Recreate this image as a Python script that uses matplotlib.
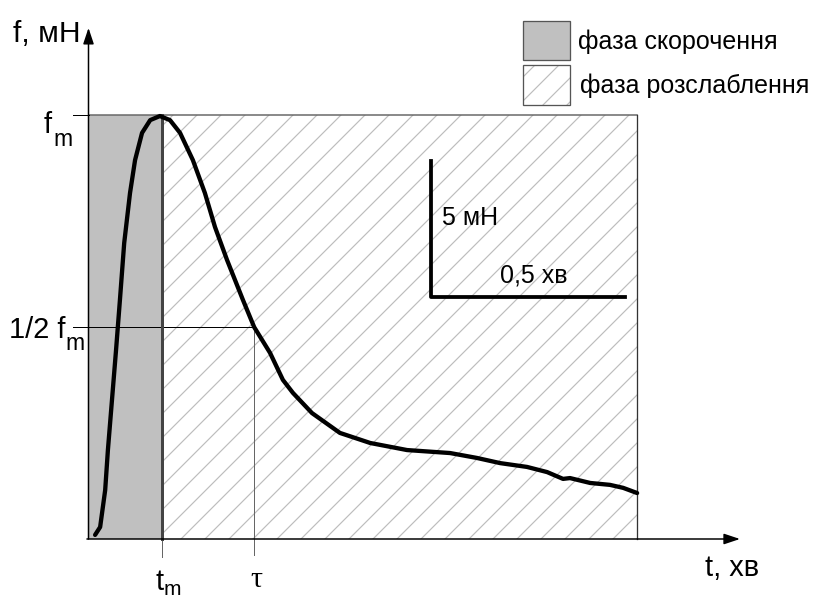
import matplotlib
matplotlib.use("Agg")
import matplotlib.pyplot as plt
import matplotlib.transforms as mtransforms
from matplotlib.patches import Rectangle

# curve: time in minutes, force in mN
t_curve = [0.017, 0.030, 0.043, 0.050, 0.071, 0.081, 0.092, 0.107, 0.120, 0.138,
           0.159, 0.184, 0.210, 0.236, 0.269, 0.300, 0.326, 0.357, 0.398, 0.427,
           0.468, 0.501, 0.527, 0.576, 0.648, 0.726, 0.821, 0.932, 1.001, 1.061,
           1.130, 1.182, 1.223, 1.241, 1.293, 1.344, 1.378, 1.414]
f_curve = [0.15, 0.44, 1.80, 3.27, 6.95, 8.79, 10.88, 12.72, 13.93, 14.93,
           15.40, 15.55, 15.40, 14.93, 13.93, 12.72, 11.47, 10.26, 8.79, 7.79,
           6.84, 5.85, 5.37, 4.63, 3.90, 3.53, 3.27, 3.16, 2.98, 2.79,
           2.65, 2.46, 2.21, 2.24, 2.06, 1.99, 1.88, 1.69]

f_max = 15.6      # f_m
t_max = 0.189     # t_m
tau = 0.427       # time of 1/2 f_m
t_end = 1.414
scale_t0, scale_f0 = 0.883, 8.90
scale_dt, scale_df = 0.5, 5.0

legend_labels = ["фаза скорочення", "фаза розслаблення"]

W, H, DPI = 814, 599, 72
PX_MIN, PX_MN = 388.0, 27.2     # pixels per minute / per mN
X0, Y0 = 88.5, 539.0            # origin in pixels

plt.rcParams["font.family"] = ["Liberation Sans", "DejaVu Sans"]
plt.rcParams["hatch.linewidth"] = 1.2

fig = plt.figure(figsize=(W / DPI, H / DPI), dpi=DPI)
ax = fig.add_axes([0, 0, 1, 1])
ax.set_xlim(-X0 / PX_MIN, (W - X0) / PX_MIN)
ax.set_ylim((Y0 - H) / PX_MN, Y0 / PX_MN)
ax.axis("off")

# pixel transform (origin top-left) for labels / legend
px = mtransforms.Affine2D().scale(1, -1).translate(0, H)

# phases
ax.add_patch(Rectangle((0, 0), t_max, f_max, facecolor="#c0c0c0",
                       edgecolor="none", zorder=1))
ax.add_patch(Rectangle((t_max, 0), t_end - t_max, f_max, facecolor="white",
                       edgecolor="#bdbdbd", hatch="/", lw=0, zorder=1))
ax.plot([0, t_end], [f_max, f_max], color="#666666", lw=1.5, zorder=2)
ax.plot([t_end, t_end], [0, f_max], color="#333333", lw=1.3, zorder=2)
ax.plot([t_max, t_max], [0, f_max], color="#444444", lw=3, zorder=3)

# guide lines
ax.plot([-0.04, 0], [f_max, f_max], color="black", lw=1, zorder=2)
ax.plot([-0.04, tau], [f_max / 2, f_max / 2], color="black", lw=1, zorder=2)
ax.plot([t_max, t_max], [0, -0.67], color="#666666", lw=1, zorder=2)
ax.plot([tau, tau], [-0.6, f_max / 2], color="#666666", lw=1, zorder=2)

# axes with arrows
head = "-|>,head_length=0.45,head_width=0.15"
ax.annotate("", xy=(0, 18.79), xytext=(0, 0),
            arrowprops=dict(arrowstyle=head, color="black", lw=1.5,
                            mutation_scale=30, shrinkA=0, shrinkB=0))
ax.annotate("", xy=(1.679, 0), xytext=(-0.004, 0),
            arrowprops=dict(arrowstyle=head, color="black", lw=1.5,
                            mutation_scale=30, shrinkA=0, shrinkB=0))

# the curve
ax.plot(t_curve, f_curve, color="black", lw=4.3, solid_capstyle="round",
        solid_joinstyle="round", zorder=5)

# scale bar
ax.plot([scale_t0, scale_t0, scale_t0 + scale_dt],
        [scale_f0 + scale_df, scale_f0, scale_f0],
        color="black", lw=3.8, zorder=5)

# labels
def lab(x, y, s, size, **kw):
    ax.text(x, y, s, transform=px, fontsize=size, va="baseline", **kw)

lab(13, 42, "f, мН", 30)
lab(44, 133, "f", 29)
lab(53, 146, "m", 23)
lab(9, 338, "1/2 f", 29)
lab(65, 350, "m", 23)
lab(155, 590, "t", 29)
lab(164, 595, "m", 21)
lab(256, 587, "τ", 30, ha="center", family=["Liberation Serif", "DejaVu Serif"])
lab(705, 576, "t, хв", 29)
lab(442, 225, "5 мН", 25)
lab(500, 283, "0,5 хв", 25)

# legend
ax.add_patch(Rectangle((523, 21), 47, 39, transform=px, facecolor="#c0c0c0",
                       edgecolor="#555555", lw=1.3, zorder=6))
ax.add_patch(Rectangle((523, 65), 47, 40, transform=px, facecolor="white",
                       edgecolor="#bdbdbd", hatch="/", lw=0, zorder=6))
ax.add_patch(Rectangle((523, 65), 47, 40, transform=px, fill=False,
                       edgecolor="#555555", lw=1.3, zorder=7))
lab(578, 49, legend_labels[0], 25)
lab(580, 93, legend_labels[1], 25)

fig.savefig("out.png", dpi=DPI)
